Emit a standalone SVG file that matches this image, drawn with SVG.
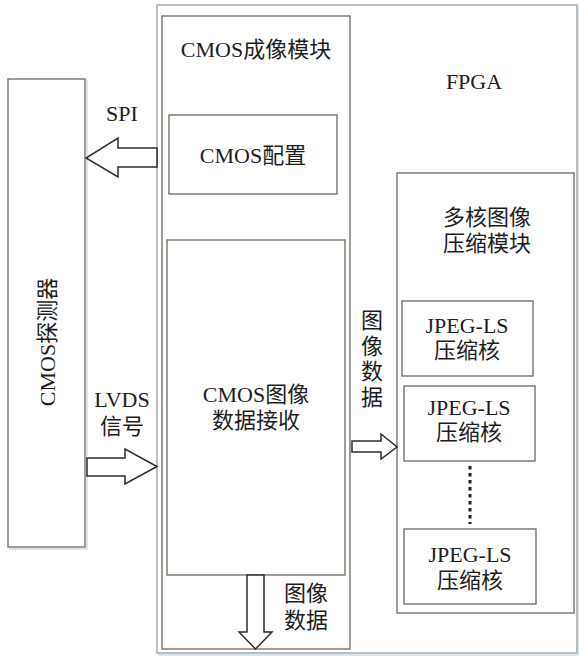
<svg xmlns="http://www.w3.org/2000/svg" width="579" height="657" viewBox="0 0 579 657">
<style>
.box{fill:#fff;stroke:#6f675d;stroke-width:1.3}
.sh{fill:none;stroke:#dbe6f3;stroke-width:2}
.outer{fill:#fff;stroke:#a9a9a9;stroke-width:1.5}
.arr{fill:#fff;stroke:#2b2b2b;stroke-width:1.5;stroke-linejoin:miter}
text{font-family:"Liberation Serif","Noto Sans CJK SC",serif;font-size:22px;fill:#1e1e1e;text-anchor:middle}
</style>
<rect width="579" height="657" fill="#fff"/>
<g id="fpga">
<rect class="sh" x="159" y="7" width="420" height="648"/>
<rect class="outer" x="157" y="5" width="420" height="648"/>
<text x="474" y="89">FPGA</text>
</g>
<g id="cmos-module">
<rect class="box" x="162" y="16" width="188" height="633" stroke="#8a8a8a"/>
<text x="256" y="57">CMOS成像模块</text>
</g>
<g id="cmos-detector">
<rect class="sh" x="10" y="81" width="77" height="468"/>
<rect class="box" x="8" y="79" width="77" height="468"/>
<text transform="translate(55,342) rotate(-90)">CMOS探测器</text>
</g>
<g id="cmos-config">
<rect class="box" x="169" y="115" width="168" height="79"/>
<text x="253" y="163">CMOS配置</text>
</g>
<g id="cmos-receive">
<rect class="box" x="167" y="240" width="178" height="335"/>
<text x="256" y="402">CMOS图像</text>
<text x="256" y="428">数据接收</text>
</g>
<g id="compress-module">
<rect class="box" x="397" y="173" width="177" height="440" stroke="#8a8a8a"/>
<text x="487" y="225">多核图像</text>
<text x="487" y="251">压缩模块</text>
</g>
<g id="core1">
<rect class="box" x="402" y="301" width="131" height="75"/>
<text x="467" y="333">JPEG-LS</text>
<text x="467" y="358">压缩核</text>
</g>
<g id="core2">
<rect class="box" x="404" y="386" width="131" height="75"/>
<text x="469" y="415">JPEG-LS</text>
<text x="469" y="440">压缩核</text>
</g>
<g id="core3">
<rect class="box" x="404" y="529" width="132" height="75"/>
<text x="470" y="562">JPEG-LS</text>
<text x="470" y="588">压缩核</text>
</g>
<g id="connectors">
<polygon class="arr" points="157,148 118,148 118,138 86,158 118,177 118,167 157,167"/>
<polygon class="arr" points="87,458 125,458 125,449 157,466.5 125,484 125,476 87,476"/>
<polygon class="arr" points="352,441 381,441 381,434 397,447 381,459 381,452 352,452"/>
<polygon class="arr" points="247,575 247,632 239,632 255.5,649 272,632 264,632 264,575"/>
<line x1="470" y1="466" x2="470" y2="524" stroke="#222" stroke-width="3" stroke-dasharray="3.5,3.5"/>
<text x="122" y="121">SPI</text>
<text x="122" y="407">LVDS</text>
<text x="122" y="434">信号</text>
<text x="306" y="601">图像</text>
<text x="306" y="628">数据</text>
<text x="372" y="328">图</text>
<text x="372" y="354">像</text>
<text x="372" y="379">数</text>
<text x="372" y="405">据</text>
</g>
</svg>
